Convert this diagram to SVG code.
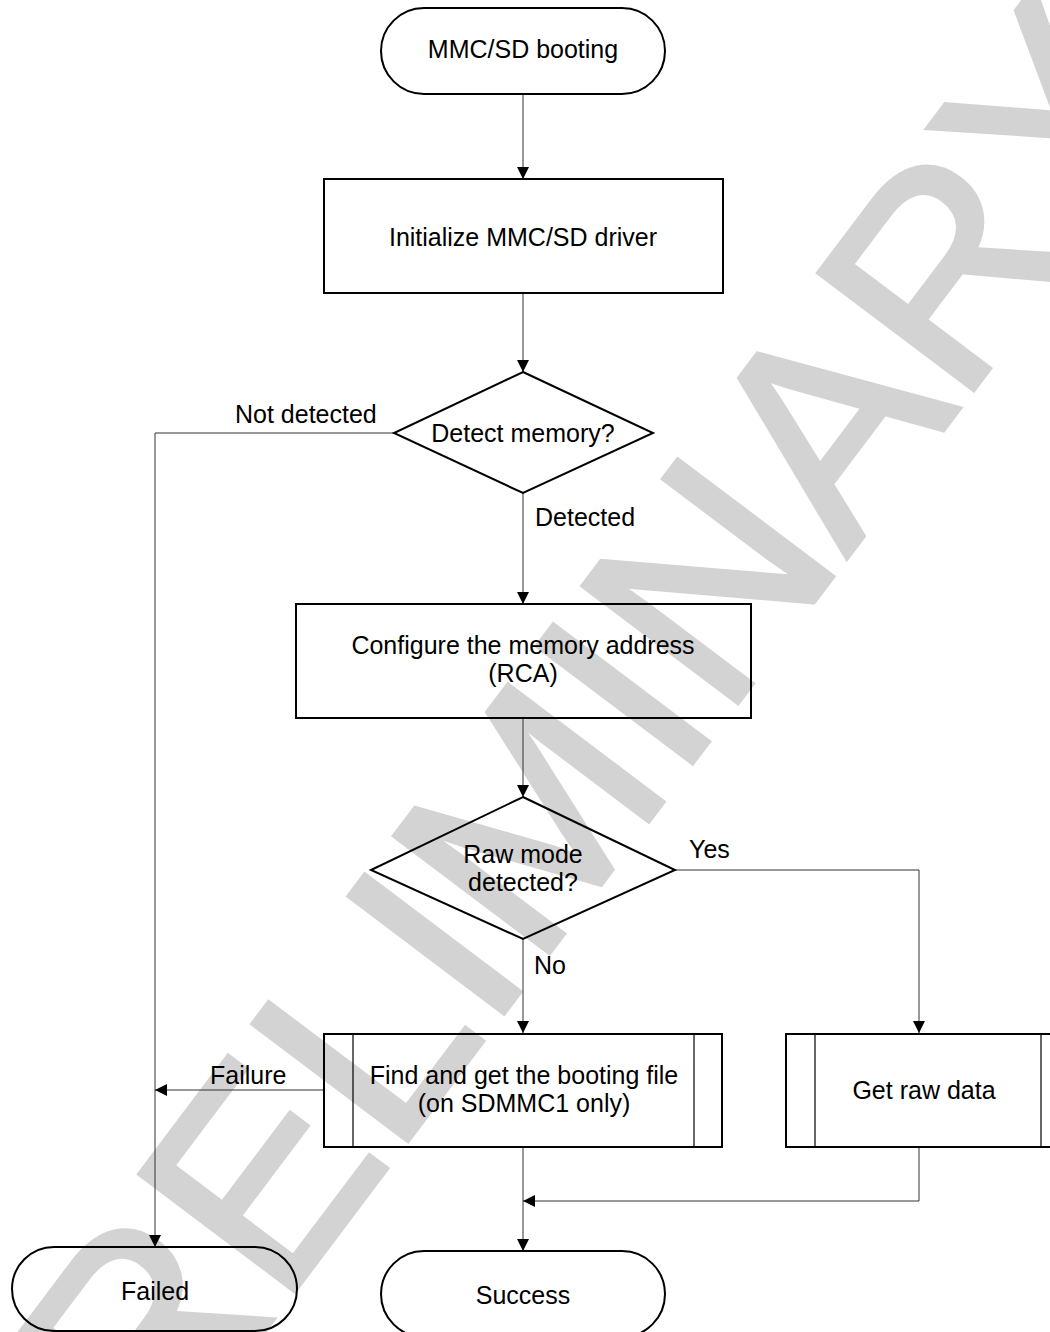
<svg xmlns="http://www.w3.org/2000/svg" width="1050" height="1332" viewBox="0 0 1050 1332">
  <defs>
    <marker id="arrow" viewBox="0 0 12 12" refX="12" refY="6" markerWidth="12" markerHeight="12" markerUnits="userSpaceOnUse" orient="auto">
      <path d="M0,0 L12,6 L0,12 z" fill="#000"/>
    </marker>
    <style>
      .node { fill: none; stroke: #000; stroke-width: 2; }
      .inner { fill: none; stroke: #000; stroke-width: 1.2; }
      .conn { fill: none; stroke: #333; stroke-width: 1; }
      .lbl { font-family: "Liberation Sans", Arial, sans-serif; font-size: 25px; fill: #000; }
      .mid { text-anchor: middle; }
      .wm { font-family: "Liberation Sans", Arial, sans-serif; font-size: 282px; fill: #d3d3d3; stroke: #d3d3d3; stroke-width: 5; stroke-linejoin: miter; }
    </style>
  </defs>
  <rect width="1050" height="1332" fill="#fff"/>

  <g id="watermark">
    <text class="wm" transform="translate(45,1622) rotate(-53)" x="0" y="0">PRELIMINARY</text>
  </g>

  <g id="connectors">
    <path class="conn" d="M523,94 V179" marker-end="url(#arrow)"/>
    <path class="conn" d="M523,293 V372" marker-end="url(#arrow)"/>
    <path class="conn" d="M394,433 H155 V1247" marker-end="url(#arrow)"/>
    <path class="conn" d="M523,493 V604" marker-end="url(#arrow)"/>
    <path class="conn" d="M523,718 V797" marker-end="url(#arrow)"/>
    <path class="conn" d="M675,870 H919 V1033" marker-end="url(#arrow)"/>
    <path class="conn" d="M523,939 V1033" marker-end="url(#arrow)"/>
    <path class="conn" d="M324,1090 H155" marker-end="url(#arrow)"/>
    <path class="conn" d="M523,1147 V1251" marker-end="url(#arrow)"/>
    <path class="conn" d="M919,1147 V1201 H523" marker-end="url(#arrow)"/>
    <text class="lbl" x="235" y="423">Not detected</text>
    <text class="lbl" x="535" y="526">Detected</text>
    <text class="lbl" x="689" y="858">Yes</text>
    <text class="lbl" x="534" y="974">No</text>
    <text class="lbl" x="210" y="1084">Failure</text>
  </g>

  <g id="start">
    <rect class="node" x="381" y="8" width="284" height="86" rx="43" ry="43"/>
    <text class="lbl mid" x="523" y="58">MMC/SD booting</text>
  </g>

  <g id="init">
    <rect class="node" x="324" y="179" width="399" height="114"/>
    <text class="lbl mid" x="523" y="246">Initialize MMC/SD driver</text>
  </g>

  <g id="detect">
    <polygon class="node" points="523,372 653,433 523,493 394,433"/>
    <text class="lbl mid" x="523" y="442">Detect memory?</text>
  </g>

  <g id="configure">
    <rect class="node" x="296" y="604" width="455" height="114"/>
    <text class="lbl mid" x="523" y="654">Configure the memory address</text>
    <text class="lbl mid" x="523" y="682">(RCA)</text>
  </g>

  <g id="rawmode">
    <polygon class="node" points="523,797 675,870 523,939 371,870"/>
    <text class="lbl mid" x="523" y="863">Raw mode</text>
    <text class="lbl mid" x="523" y="891">detected?</text>
  </g>

  <g id="findfile">
    <rect class="node" x="324" y="1034" width="398" height="113"/>
    <line class="inner" x1="353" y1="1034" x2="353" y2="1147"/>
    <line class="inner" x1="694" y1="1034" x2="694" y2="1147"/>
    <text class="lbl mid" x="524" y="1084">Find and get the booting file</text>
    <text class="lbl mid" x="524" y="1112">(on SDMMC1 only)</text>
  </g>

  <g id="rawdata">
    <rect class="node" x="786" y="1034" width="285" height="113"/>
    <line class="inner" x1="815" y1="1034" x2="815" y2="1147"/>
    <line class="inner" x1="1041" y1="1034" x2="1041" y2="1147"/>
    <text class="lbl mid" x="924" y="1099">Get raw data</text>
  </g>

  <g id="failed">
    <rect class="node" x="12" y="1247" width="285" height="84" rx="42" ry="42"/>
    <text class="lbl mid" x="155" y="1300">Failed</text>
  </g>

  <g id="success">
    <rect class="node" x="381" y="1251" width="284" height="86" rx="43" ry="43"/>
    <text class="lbl mid" x="523" y="1304">Success</text>
  </g>
</svg>
